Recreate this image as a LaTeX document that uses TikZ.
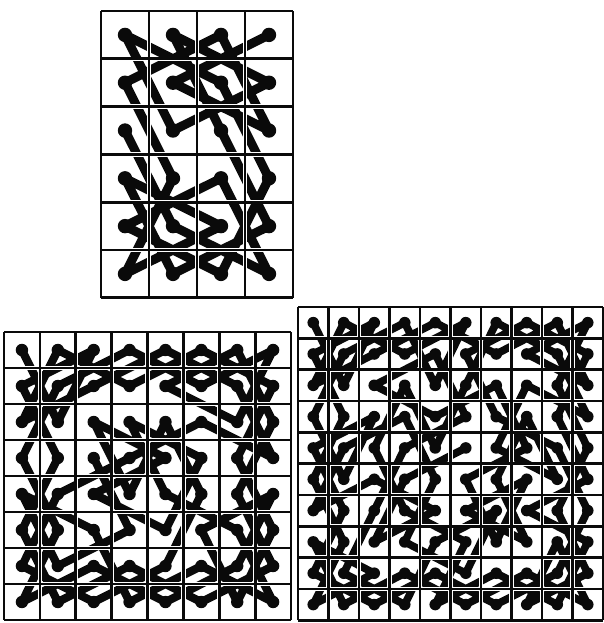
\documentclass[tikz,border=0pt]{standalone}
\usepackage{xcolor}
\usepackage{tikz}
\definecolor{ink}{HTML}{0A0A0A}
\tikzset{
  boardcase/.style={draw=white, line width=3pt},
  boardline/.style={draw=ink, line width=1.9pt},
  tourline/.style={draw=ink, line width=#1, line join=round, line cap=round},
  tourline/.default=5pt,
  cellmark/.style={fill=ink},
}

% knight's tour by Warnsdorff's rule, ties go to the square farthest from the centre;
% a start square that runs into a dead end is dropped for the next one
\newcount\kw \newcount\kh \newcount\kx \newcount\ky
\newcount\ktx \newcount\kty \newcount\kux \newcount\kuy
\newcount\kdeg \newcount\kdist
\newcount\kbdeg \newcount\kbdist \newcount\kbx \newcount\kby
\newcount\ksteps \newcount\kscol \newcount\ksrow \newcount\katt
\newif\ifkfree

\def\kcheck#1#2{%
  \global\kfreefalse
  \ifnum#1>0 \ifnum#1<\numexpr\kw+1\relax
  \ifnum#2>0 \ifnum#2<\numexpr\kh+1\relax
    \expandafter\ifx\csname kv@\kname @\the#1@\the#2\endcsname\relax
      \global\kfreetrue
    \fi
  \fi\fi\fi\fi}
\def\kmark{\expandafter\gdef\csname kv@\kname @\the\kx @\the\ky\endcsname{1}}
\def\kcount#1#2{%
  \global\kux=\numexpr\ktx+#1\relax \global\kuy=\numexpr\kty+#2\relax
  \kcheck\kux\kuy
  \ifkfree\global\advance\kdeg 1 \fi}
\def\ktake{\global\kbdeg=\kdeg \global\kbdist=\kdist
  \global\kbx=\ktx \global\kby=\kty}
\def\ktry#1#2{%
  \global\ktx=\numexpr\kx+#1\relax \global\kty=\numexpr\ky+#2\relax
  \kcheck\ktx\kty
  \ifkfree
    \global\kdeg=0
    \kcount{1}{2}\kcount{2}{1}\kcount{2}{-1}\kcount{1}{-2}%
    \kcount{-1}{-2}\kcount{-2}{-1}\kcount{-2}{1}\kcount{-1}{2}%
    \global\kdist=\numexpr(2*\ktx-\kw-1)*(2*\ktx-\kw-1)+(2*\kty-\kh-1)*(2*\kty-\kh-1)\relax
    \ifnum\kdeg<\kbdeg \ktake\else
      \ifnum\kdeg=\kbdeg \ifnum\kdist>\kbdist \ktake\fi\fi
    \fi
  \fi}
\def\kstep{\global\kbdeg=9 \global\kbdist=-1
  \ktry{1}{2}\ktry{2}{1}\ktry{2}{-1}\ktry{1}{-2}%
  \ktry{-1}{-2}\ktry{-2}{-1}\ktry{-2}{1}\ktry{-1}{2}}
\def\kattempt#1{%
  \global\advance\katt 1
  \xdef\kname{#1\the\katt}%
  \global\kx=\kscol \global\ky=\ksrow \kmark \global\ksteps=1
  \xdef\kpath{(#1-\the\kx-\the\ky)}%
  \loop
    \kstep
  \ifnum\kbdeg<9
    \global\kx=\kbx \global\ky=\kby \kmark \global\advance\ksteps 1
    \xdef\kpath{\kpath -- (#1-\the\kx-\the\ky)}%
  \repeat
  \global\let\knext\relax
  \ifnum\ksteps<\numexpr\kw*\kh\relax
    \global\advance\kscol 1
    \ifnum\kscol>\kw \global\kscol=1 \global\advance\ksrow 1 \fi
    \ifnum\ksrow>\kh\else \gdef\knext{\kattempt{#1}}\fi
  \fi
  \knext
  \expandafter\global\expandafter\let\csname tour#1\endcsname\kpath}
\def\knighttour#1#2#3{% name, columns, rows
  \global\kw=#2 \global\kh=#3 \global\katt=0
  \global\kscol=1 \global\ksrow=1
  \kattempt{#1}}

\knighttour{top}{4}{6}
\knighttour{left}{8}{8}
\knighttour{right}{10}{10}

\begin{document}
\begin{tikzpicture}[x=0.25mm, y=-0.25mm]
  \useasboundingbox (0,0) rectangle (604,623);

  % 4 x 6 board
  \begin{scope}[shift={(101,11)}, x=12mm, y=-11.95mm]
    \foreach \i in {1,...,4} \foreach \j in {1,...,6}
      \coordinate (top-\i-\j) at (\i-0.5,\j-0.5);
    \edef\drawtour{\noexpand\draw[tourline=6.4pt] \tourtop;}\drawtour
    \foreach \i in {1,...,4} \foreach \j in {1,...,6}
      \fill[cellmark] (top-\i-\j) circle (1.8mm);
    \foreach \k in {0,...,4} \draw[boardcase] (\k,0) -- (\k,6);
    \foreach \k in {0,...,6} \draw[boardcase] (0,\k) -- (4,\k);
    \foreach \k in {0,...,4} \draw[boardline] (\k,0) -- (\k,6);
    \foreach \k in {0,...,6} \draw[boardline] (0,\k) -- (4,\k);
  \end{scope}

  % 8 x 8 board
  \begin{scope}[shift={(4,332)}, x=8.97mm, y=-9mm]
    \foreach \i in {1,...,8} \foreach \j in {1,...,8}
      \coordinate (left-\i-\j) at (\i-0.5,\j-0.5);
    \edef\drawtour{\noexpand\draw[tourline=5.8pt] \tourleft;}\drawtour
    \foreach \i in {1,...,8} \foreach \j in {1,...,8}
      \fill[cellmark] (left-\i-\j) circle (1.55mm);
    \foreach \k in {0,...,8} {
      \draw[boardcase] (\k,0) -- (\k,8);
      \draw[boardcase] (0,\k) -- (8,\k);
    }
    \foreach \k in {0,...,8} {
      \draw[boardline] (\k,0) -- (\k,8);
      \draw[boardline] (0,\k) -- (8,\k);
    }
  \end{scope}

  % 10 x 10 board
  \begin{scope}[shift={(298,307)}, x=7.625mm, y=-7.83mm]
    \foreach \i in {1,...,10} \foreach \j in {1,...,10}
      \coordinate (right-\i-\j) at (\i-0.5,\j-0.5);
    \edef\drawtour{\noexpand\draw[tourline=5.4pt] \tourright;}\drawtour
    \foreach \i in {1,...,10} \foreach \j in {1,...,10}
      \fill[cellmark] (right-\i-\j) circle (1.45mm);
    \foreach \k in {0,...,10} {
      \draw[boardcase] (\k,0) -- (\k,10);
      \draw[boardcase] (0,\k) -- (10,\k);
    }
    \foreach \k in {0,...,10} {
      \draw[boardline] (\k,0) -- (\k,10);
      \draw[boardline] (0,\k) -- (10,\k);
    }
  \end{scope}
\end{tikzpicture}
\end{document}
